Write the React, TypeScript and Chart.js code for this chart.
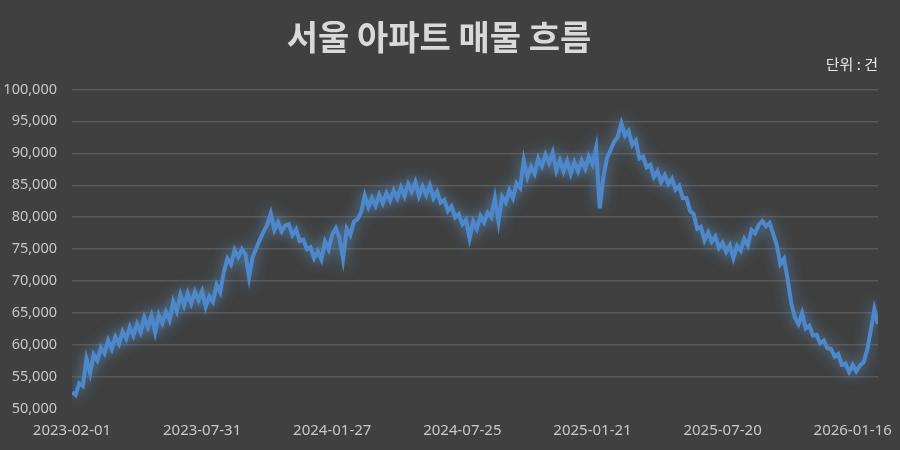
import React, { useEffect, useRef } from 'react'
import Chart from 'chart.js/auto'

// 서울 아파트 매물 (건), 2023-02-01 부터 5일 간격
const startDate = '2023-02-01'
const stepDays = 5
const tickDates = ['2023-02-01', '2023-07-31', '2024-01-27', '2024-07-25', '2025-01-21', '2025-07-20', '2026-01-16']

const listings = [
  52600, 52200, 54000, 53600, 57800, 55600, 58500, 57600, 59600, 58700,
  60700, 59400, 61300, 60200, 62100, 61000, 62800, 61500, 63300, 62000,
  64300, 62800, 64600, 62000, 64700, 63400, 65200, 63900, 66800, 65300,
  67900, 66200, 68100, 66500, 68300, 67000, 68400, 66000, 67600, 66800,
  69400, 68300, 71400, 73500, 72600, 74900, 73800, 75000, 74200, 70600,
  73800, 75200, 76500, 77700, 78800, 80600, 78000, 79200, 77800, 78700,
  78900, 77200, 78100, 76300, 76500, 75000, 75300, 73600, 74700, 73400,
  76200, 75000, 77300, 78300, 76800, 73500, 78200, 77200, 79300, 79700,
  80800, 83400, 81600, 83000, 81800, 83500, 82200, 83800, 82600, 84200,
  83000, 84700, 83300, 85200, 84000, 85500, 83300, 84800, 83500, 85000,
  83000, 84000, 82300, 82700, 81000, 81700, 80000, 80500, 78900, 79600,
  76700, 79300, 78200, 80200, 79200, 80700, 80000, 83000, 79300, 83200,
  82300, 84200, 83000, 85300, 84600, 88900, 86300, 87900, 86800, 89200,
  88000, 89800, 88500, 90100, 87300, 88900, 87200, 88800, 86800, 88600,
  87200, 88900, 87600, 89500, 88300, 90800, 81400, 86200, 89300, 90500,
  91800, 92600, 94700, 92800, 93500, 91300, 92000, 89200, 89500, 87800,
  88200, 86300, 87200, 85500, 86600, 85200, 86000, 84300, 84900, 83000,
  83000, 81000, 80500, 78200, 78500, 76400, 77600, 76200, 77000, 75200,
  76000, 74600, 75600, 73600, 75500, 74800, 76600, 75600, 78000, 77500,
  78800, 79400, 78600, 79100, 77400, 75600, 72700, 73500, 70300, 66600,
  64300, 63300, 65000, 62600, 63000, 61500, 61600, 60300, 60700, 59500,
  59400, 58200, 58600, 56900, 57100, 55800, 56900, 55900, 56800, 57300,
  59200, 62300, 65600, 63300,
]

const DAY = 86400000
const dayOf = (d: string) => Math.round((Date.parse(d) - Date.parse(startDate)) / DAY)
const dateOf = (n: number) => new Date(Date.parse(startDate) + n * DAY).toISOString().slice(0, 10)

const glow = {
  id: 'glow',
  beforeDatasetDraw(chart: Chart) {
    const ctx = chart.ctx
    ctx.save()
    ctx.shadowColor = 'rgba(91, 155, 213, 0.75)'
    ctx.shadowBlur = 14
  },
  afterDatasetDraw(chart: Chart) {
    chart.ctx.restore()
  },
}

const App: React.FC = () => {
  const canvasRef = useRef<HTMLCanvasElement | null>(null)

  useEffect(() => {
    if (!canvasRef.current) return
    const ctx = canvasRef.current.getContext('2d')
    if (!ctx) return

    const font = "'Noto Sans', 'Noto Sans CJK KR', sans-serif"
    const chart = new Chart(ctx, {
      type: 'line',
      data: {
        datasets: [
          {
            data: listings.map((v, i) => ({ x: i * stepDays, y: v })),
            borderColor: '#4d88cc',
            borderWidth: 4,
            pointRadius: 0,
            tension: 0,
          },
        ],
      },
      options: {
        responsive: false,
        animation: false,
        layout: { padding: { left: 0, right: 22, top: 0, bottom: 0 } },
        plugins: {
          legend: { display: false },
          tooltip: { enabled: false },
          title: {
            display: true,
            text: '서울 아파트 매물 흐름',
            color: '#d9d9d9',
            font: { family: "'Noto Sans CJK KR', sans-serif", size: 34, weight: 'bold', lineHeight: 1.1 },
            padding: { top: 18, bottom: 0 },
          },
          subtitle: {
            display: true,
            text: '단위 : 건',
            align: 'end',
            color: '#e6e6e6',
            font: { family: "'Noto Sans CJK KR', sans-serif", size: 15, lineHeight: 1.0 },
            padding: { top: 1, bottom: 18 },
          },
        },
        scales: {
          x: {
            type: 'linear',
            min: 0,
            max: 1115,
            afterBuildTicks: (axis) => {
              axis.ticks = tickDates.map((d) => ({ value: dayOf(d) }))
            },
            afterFit: (axis) => {
              axis.height = 41
            },
            ticks: {
              color: '#c8c8c8',
              font: { family: font, size: 15 },
              maxRotation: 0,
              padding: 5,
              callback: (v) => dateOf(Number(v)),
            },
            grid: { display: false },
            border: { display: false },
          },
          y: {
            min: 50000,
            max: 100000,
            afterFit: (axis) => {
              axis.width = 72
            },
            ticks: {
              stepSize: 5000,
              color: '#c8c8c8',
              font: { family: font, size: 14.5 },
              padding: 15,
              callback: (v) => Number(v).toLocaleString('en-US'),
            },
            grid: {
              color: (c) => (c.tick && c.tick.value === 50000 ? 'rgba(0,0,0,0)' : '#595959'),
              lineWidth: 1.5,
              drawTicks: false,
            },
            border: { display: false },
          },
        },
      },
      plugins: [glow],
    })

    return () => {
      chart.destroy()
    }
  }, [])

  return (
    <div style={{ position: 'fixed', left: 0, top: 0, width: 900, height: 450, background: '#404040' }}>
      <canvas ref={canvasRef} width={900} height={450} />
    </div>
  )
}

export default App
